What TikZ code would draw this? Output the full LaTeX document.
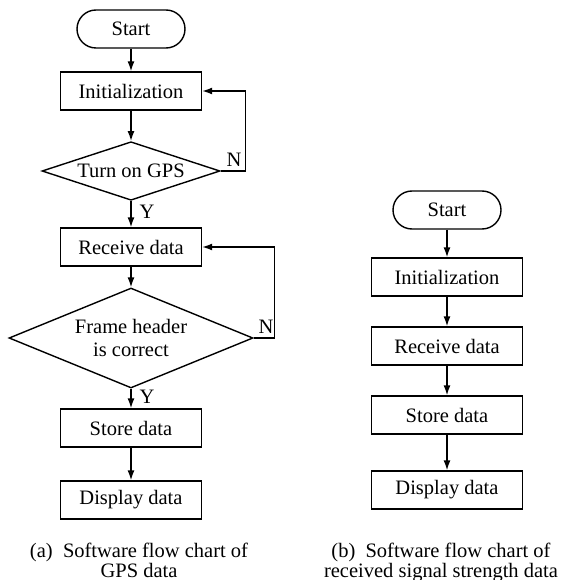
\documentclass[tikz,border=0pt]{standalone}
\usepackage{fontspec}
\setmainfont{Liberation Serif}
\usetikzlibrary{shapes.geometric,arrows.meta}
\begin{document}
\begin{tikzpicture}[x=1pt,y=-1pt,
  every node/.style={font=\fontsize{20.5pt}{23pt}\selectfont},
  box/.style={draw,line width=1.4pt,minimum width=141pt,minimum height=38pt,inner sep=0pt},
  boxb/.style={box,minimum width=151pt},
  term/.style={draw,line width=1.4pt,rounded corners=19pt,minimum width=108pt,minimum height=38pt,inner sep=0pt},
  dec/.style={draw,diamond,line width=1.4pt,inner sep=0pt,aspect=2.4},
  arr/.style={line width=1.4pt,-{Latex[length=10pt,width=7pt]}},
  lab/.style={inner sep=0pt},
  captext/.style={align=center,inner sep=0pt,anchor=base,font=\fontsize{20.5pt}{18pt}\selectfont}
]
\useasboundingbox (0,0) rectangle (562,580);
% (a)
\node[term] (s1) at (131,29) {Start};
\node[box] (i1) at (131,91) {Initialization};
\node[dec,minimum width=178pt,minimum height=58pt] (g1) at (131,171) {Turn on GPS};
\node[box] (r1) at (131,247) {Receive data};
\node[dec,minimum width=244pt,minimum height=100pt,align=center] (f1) at (131,338) {Frame header\\is correct};
\node[box] (st1) at (131,428) {Store data};
\node[box] (d1) at (131,500) {Display data};
\draw[arr] (s1) -- (i1);
\draw[arr] (i1) -- (g1);
\draw[arr] (g1) -- (r1);
\draw[arr] (r1) -- (f1);
\draw[arr] (f1) -- (st1);
\draw[arr] (st1) -- (d1);
\draw[arr] (g1.east) -- ++(25,0) |- (i1.east);
\draw[arr] (f1.east) -- ++(21,0) |- (r1.east);
\node[lab] (n1) at (234,160) {N};
\node[lab] (n2) at (266,327) {N};
\node[lab] (y1) at (147,212) {Y};
\node[lab] (y2) at (147,397) {Y};
\node[captext] (ca) at (139,577) {(a)\ \ Software flow chart of\\GPS data};
% (b)
\node[term] (s2) at (447,210) {Start};
\node[boxb] (i2) at (447,277) {Initialization};
\node[boxb] (r2) at (447,346) {Receive data};
\node[boxb] (st2) at (447,415) {Store data};
\node[boxb] (d2) at (447,490) {Display data};
\draw[arr] (s2) -- (i2);
\draw[arr] (i2) -- (r2);
\draw[arr] (r2) -- (st2);
\draw[arr] (st2) -- (d2);
\node[captext] (cb) at (441,577) {(b)\ \ Software flow chart of\\received signal strength data};
\end{tikzpicture}
\end{document}
